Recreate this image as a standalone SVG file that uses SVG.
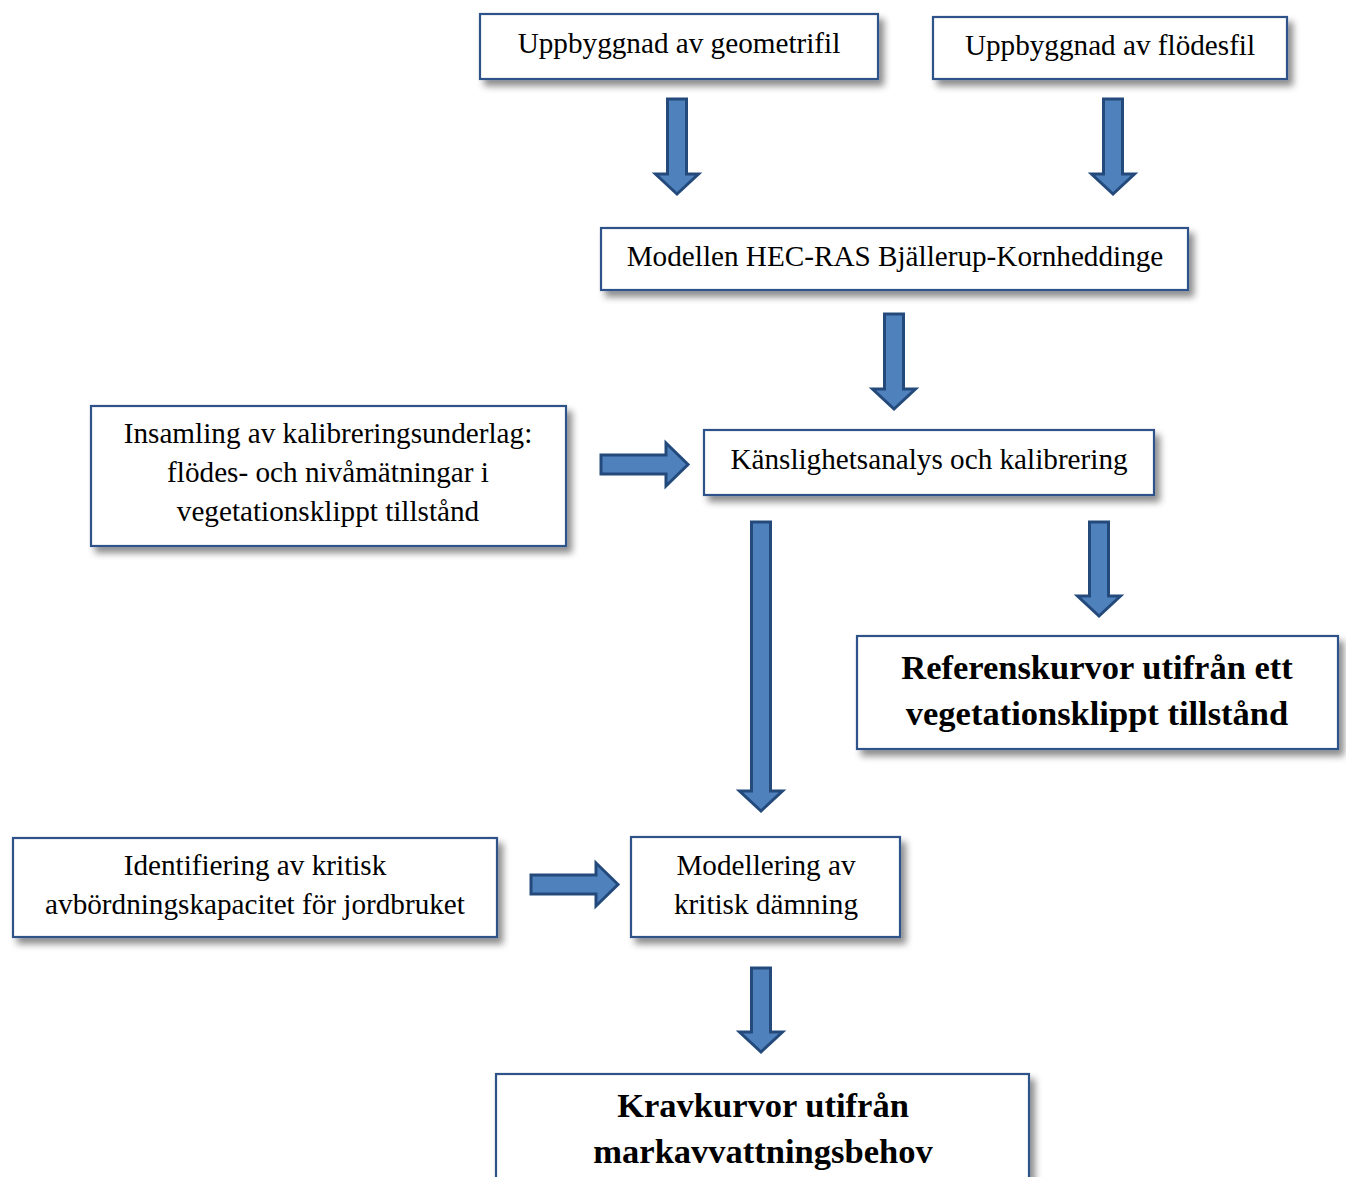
<svg xmlns="http://www.w3.org/2000/svg" width="1346" height="1177" viewBox="0 0 1346 1177">
<defs>
<filter id="sh" x="-5%" y="-10%" width="115%" height="140%">
<feDropShadow dx="5" dy="6" stdDeviation="3.5" flood-color="#000" flood-opacity="0.45"/>
</filter>
</defs>
<style>
.box{fill:#fff;stroke:#2f5288;stroke-width:2.2;filter:url(#sh)}
.t{font-family:"Liberation Serif","Times New Roman",serif;font-size:29.2px;fill:#000;text-anchor:middle}
.b{font-family:"Liberation Serif","Times New Roman",serif;font-size:34.5px;font-weight:bold;fill:#000;text-anchor:middle}
.ar{fill:#4f81bd;stroke:#244a7c;stroke-width:3;stroke-linejoin:miter}
</style>
<rect width="1346" height="1177" fill="#fff"/>
<g id="connectors">
<path class="ar" d="M667.5 99 H686.5 V174 H698.5 L677 194 L655.5 174 H667.5 Z"/>
<path class="ar" d="M1103.5 99 H1122.5 V174 H1134.5 L1113 194 L1091.5 174 H1103.5 Z"/>
<path class="ar" d="M884.5 314 H903.5 V389 H915.5 L894 409 L872.5 389 H884.5 Z"/>
<path class="ar" d="M601 455 H666 V443 L688 464.5 L666 486 V474 H601 Z"/>
<path class="ar" d="M751.5 522 H770.5 V791 H782.5 L761 811 L739.5 791 H751.5 Z"/>
<path class="ar" d="M1089.5 522 H1108.5 V596 H1120.5 L1099 616 L1077.5 596 H1089.5 Z"/>
<path class="ar" d="M531 875 H596 V863 L618 884.5 L596 906 V894 H531 Z"/>
<path class="ar" d="M751.5 968 H770.5 V1032 H782.5 L761 1052 L739.5 1032 H751.5 Z"/>
</g>
<g id="n1"><rect class="box" x="480" y="14" width="398" height="65"/><text class="t" x="679" y="53">Uppbyggnad av geometrifil</text></g>
<g id="n2"><rect class="box" x="933" y="17" width="354" height="62"/><text class="t" x="1110" y="55">Uppbyggnad av flödesfil</text></g>
<g id="n3"><rect class="box" x="601" y="228" width="587" height="62"/><text class="t" x="895" y="266">Modellen HEC-RAS Bjällerup-Kornheddinge</text></g>
<g id="n4"><rect class="box" x="704" y="430" width="450" height="65"/><text class="t" x="929" y="469">Känslighetsanalys och kalibrering</text></g>
<g id="n5"><rect class="box" x="91" y="406" width="475" height="140"/>
<text class="t" x="328" y="443">Insamling av kalibreringsunderlag:</text>
<text class="t" x="328" y="482">flödes- och nivåmätningar i</text>
<text class="t" x="328" y="521">vegetationsklippt tillstånd</text></g>
<g id="n6"><rect class="box" x="857" y="636" width="481" height="113"/>
<text class="b" x="1097" y="679">Referenskurvor utifrån ett</text>
<text class="b" x="1097" y="725">vegetationsklippt tillstånd</text></g>
<g id="n7"><rect class="box" x="13" y="838" width="484" height="99"/>
<text class="t" x="255" y="875">Identifiering av kritisk</text>
<text class="t" x="255" y="914">avbördningskapacitet för jordbruket</text></g>
<g id="n8"><rect class="box" x="631" y="837" width="269" height="100"/>
<text class="t" x="766" y="875">Modellering av</text>
<text class="t" x="766" y="914">kritisk dämning</text></g>
<g id="n9"><rect class="box" x="496" y="1074" width="533" height="130"/>
<text class="b" x="763" y="1117">Kravkurvor utifrån</text>
<text class="b" x="763" y="1163">markavvattningsbehov</text></g>
</svg>
